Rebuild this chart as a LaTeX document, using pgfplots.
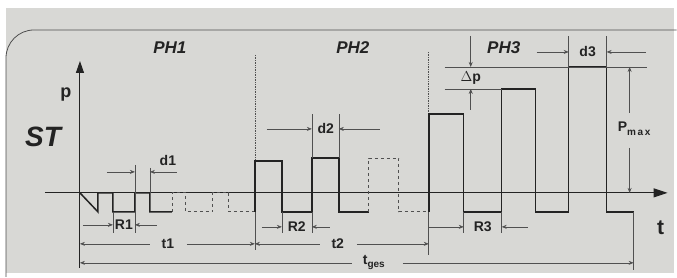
\documentclass[border=0pt]{standalone}
\usepackage{pgfplots}
\pgfplotsset{compat=1.18}
\usetikzlibrary{arrows.meta}
\usepackage{fontspec}
\setmainfont{Liberation Sans}
\definecolor{bg}{RGB}{216,216,213}
\definecolor{ink}{RGB}{35,35,35}
\definecolor{dim}{RGB}{80,80,80}
\begin{document}
\begin{tikzpicture}[
  dl/.style={dim, line width=0.6pt},
  da/.style={dim, line width=0.6pt, -{Stealth[length=5pt,width=4pt]}},
  lab/.style={ink, font=\fontsize{14}{14}\selectfont\bfseries, inner sep=0pt},
  ph/.style={ink, font=\fontsize{17}{17}\selectfont\bfseries\itshape, inner sep=0pt}]
\begin{axis}[width=677pt, height=277pt, scale only axis,
  xmin=0, xmax=677, ymin=0, ymax=277, y dir=reverse,
  axis lines=none, clip=false]
% background
\fill[white] (0,0) rectangle (677,277);
\fill[bg] (6,8) rectangle (674,273);
\draw[ink!80, line width=0.8pt, rounded corners=28pt] (6,277) -- (6,30) -- (677,30);
% phase separators
\draw[dim, densely dotted, line width=0.7pt] (255,55) -- (255,161);
\draw[dim, densely dotted, line width=0.7pt] (429,52) -- (429,114);
% axes
\draw[ink, line width=1pt, -{Triangle[length=12pt,width=8pt]}] (80,268) -- (80,61);
\draw[ink, line width=1pt, -{Triangle[length=14pt,width=9pt]}] (45,193) -- (668,193);
% waveform
\addplot[ink, line width=1.5pt] coordinates {(80,193)(98,212)(98,193)(113,193)(113,212)(135,212)(135,193)(150,193)(150,212)(172,212)};
\addplot[dim, dashed, line width=0.8pt] coordinates {(172,212)(172,193)(186,193)(186,212)(213,212)(213,193)(229,193)(229,212)(255,212)};
\addplot[ink, line width=1.5pt] coordinates {(255,212)(255,161)(282,161)(282,212)(312,212)(312,158)(339,158)(339,212)(369,212)};
\addplot[dim, dashed, line width=0.8pt] coordinates {(369,212)(369,158)(399,158)(399,212)(429,212)};
\addplot[ink, line width=1.5pt] coordinates {(429,212)(429,114)(464,114)(464,212)(502,212)(502,89)(536,89)(536,212)(569,212)(569,67)(607,67)(607,212)(634,212)};
% extension lines
\draw[dl] (113,212) -- (113,233);
\draw[dl] (135,165) -- (135,233);
\draw[dl] (150,168) -- (150,193);
\draw[dl] (255,212) -- (255,250);
\draw[dl] (282,212) -- (282,233);
\draw[dl] (312,212) -- (312,233);
\draw[dl] (312,158) -- (312,114);
\draw[dl] (339,158) -- (339,114);
\draw[dl] (429,212) -- (429,255);
\draw[dl] (464,212) -- (464,233);
\draw[dl] (502,212) -- (502,233);
\draw[dl] (569,67) -- (569,36);
\draw[dl] (607,67) -- (607,36);
\draw[dl] (634,212) -- (634,270);
\draw[dl] (445,67) -- (647,67);
\draw[dl] (445,89) -- (502,89);
% dimension arrows
\draw[da] (107,172) -- (135,172);
\draw[da] (177,172) -- (150,172);
\node[lab] at (168,161) {d1};
\draw[da] (83,225) -- (113,225);
\draw[da] (157,225) -- (135,225);
\node[lab] at (124,225) {R1};
\draw[da] (150,244) -- (80,244);
\draw[da] (187,244) -- (255,244);
\node[lab] at (168,244) {t1};
\draw[da] (320,244) -- (255,244);
\draw[da] (357,244) -- (429,244);
\node[lab] at (338,244) {t2};
\draw[da] (352,263) -- (80,263);
\draw[da] (403,263) -- (634,263);
\node[lab] at (374,263) {t\raisebox{-3pt}{\fontsize{10}{10}\selectfont ges}};
\draw[da] (262,227) -- (282,227);
\draw[da] (330,227) -- (312,227);
\node[lab] at (297,227) {R2};
\draw[da] (267,129) -- (312,129);
\draw[da] (380,129) -- (339,129);
\node[lab] at (326,129) {d2};
\draw[da] (429,227) -- (464,227);
\draw[da] (528,227) -- (502,227);
\node[lab] at (483,227) {R3};
\draw[da] (471,36) -- (471,67);
\draw[da] (471,110) -- (471,89);
\node[lab] at (471,78) {$\Delta$p};
\draw[da] (537,52) -- (569,52);
\draw[da] (646,52) -- (607,52);
\node[lab] at (588,52) {d3};
\draw[da] (630,113) -- (630,67);
\draw[da] (630,148) -- (630,193);
\node[lab, anchor=west] at (618,129) {P\raisebox{-3.5pt}{\fontsize{10}{10}\selectfont m\,a\,x}};
% titles
\node[ph] at (170,48) {PH1};
\node[ph] at (353,48) {PH2};
\node[ph] at (504,48) {PH3};
\node[ink, font=\fontsize{18}{18}\selectfont\bfseries, inner sep=0pt] at (66,95) {p};
\node[ink, font=\fontsize{28}{28}\selectfont\bfseries\itshape, inner sep=0pt] at (43,137) {ST};
\node[ink, font=\fontsize{21}{21}\selectfont\bfseries, inner sep=0pt] at (661,228) {t};
\end{axis}
\end{tikzpicture}
\end{document}
